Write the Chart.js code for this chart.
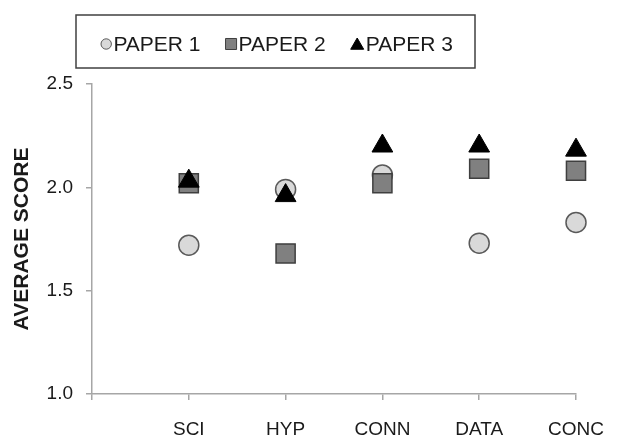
<!DOCTYPE html>
<html>
<head>
<meta charset="utf-8">
<script src="https://cdn.jsdelivr.net/npm/chart.js@4/dist/chart.umd.min.js"></script>
<style>
  html, body { margin: 0; padding: 0; background: #fff; }
  #wrap { width: 623px; height: 437px; }
</style>
</head>
<body>
<div id="wrap"><canvas id="c" width="623" height="437"></canvas></div>
<script>
const categories = ['SCI', 'HYP', 'CONN', 'DATA', 'CONC'];
const seriesNames = ['PAPER 1', 'PAPER 2', 'PAPER 3'];
const paper1 = [1.72, 1.99, 2.06, 1.73, 1.83];
const paper2 = [2.02, 1.68, 2.02, 2.09, 2.08];
const paper3 = [2.03, 1.96, 2.20, 2.20, 2.18];
const yTicks = [1.0, 1.5, 2.0, 2.5];
const yTitle = 'AVERAGE SCORE';

const FONT = '"Liberation Sans", Arial, sans-serif';
const AXIS = '#a6a6a6';

function toPoints(vals) { return vals.map((v, i) => ({ x: i + 1, y: v })); }

const boxedLegend = {
  id: 'boxedLegend',
  afterDraw(chart) {
    const ctx = chart.ctx;
    const box = { x: 76, y: 15, w: 399, h: 53 };
    ctx.save();
    ctx.strokeStyle = '#404040';
    ctx.lineWidth = 1.5;
    ctx.fillStyle = '#ffffff';
    ctx.fillRect(box.x, box.y, box.w, box.h);
    ctx.strokeRect(box.x, box.y, box.w, box.h);
    ctx.font = '21px ' + FONT;
    ctx.textBaseline = 'middle';
    ctx.textAlign = 'left';
    const cy = box.y + 29;
    const legendMarks = [
      { style: 'circle', r: 5.2 },
      { style: 'rect', r: 7.8 },
      { style: 'triangle', r: 7.5 }
    ];
    let x = 101;
    chart.data.datasets.forEach((ds, i) => {
      const m = legendMarks[i];
      const half = m.style === 'triangle' ? 6.5 : (m.style === 'rect' ? 5.5 : 5.2);
      ctx.fillStyle = ds.backgroundColor;
      ctx.strokeStyle = ds.borderColor;
      ctx.lineWidth = 1;
      Chart.helpers.drawPoint(ctx, { pointStyle: m.style, radius: m.r, rotation: 0, borderWidth: 1 }, x + half, m.style === 'triangle' ? cy + 1.5 : cy);
      const tx = x + 2 * half + 2;
      ctx.fillStyle = '#1a1a1a';
      ctx.fillText(ds.label, tx, cy + 1);
      x = tx + ctx.measureText(ds.label).width + 25;
    });
    ctx.restore();
  }
};

new Chart(document.getElementById('c'), {
  type: 'scatter',
  data: {
    datasets: [
      { label: seriesNames[0], data: toPoints(paper1), pointStyle: 'circle', pointRadius: 10, pointHoverRadius: 10,
        backgroundColor: '#d9d9d9', borderColor: '#5a5a5a', borderWidth: 1.5, order: 3, clip: false },
      { label: seriesNames[1], data: toPoints(paper2), pointStyle: 'rect', pointRadius: 13.5, pointHoverRadius: 13.5,
        backgroundColor: '#808080', borderColor: '#3f3f3f', borderWidth: 1.5, order: 2, clip: false },
      { label: seriesNames[2], data: toPoints(paper3), pointStyle: 'triangle', pointRadius: 12, pointHoverRadius: 12,
        backgroundColor: '#000000', borderColor: '#000000', borderWidth: 1, order: 1, clip: false }
    ]
  },
  options: {
    responsive: false,
    animation: false,
    devicePixelRatio: 1,
    layout: { padding: { top: 84, right: 47, left: 0, bottom: 0 } },
    plugins: { legend: { display: false }, tooltip: { enabled: false }, title: { display: false } },
    scales: {
      x: {
        type: 'linear', min: 0, max: categories.length,
        afterBuildTicks(scale) { scale.ticks = [0].concat(categories.map((c, i) => i + 1)).map(v => ({ value: v })); },
        afterFit(scale) { scale.height = 43; },
        ticks: {
          callback: (v) => (v >= 1 && v <= categories.length ? categories[v - 1] : ''),
          color: '#1a1a1a', font: { family: FONT, size: 19 }, padding: 18, maxRotation: 0, autoSkip: false
        },
        grid: { drawOnChartArea: false, drawTicks: true, tickLength: 6, color: AXIS, lineWidth: 1.5 },
        border: { display: true, color: AXIS, width: 1.5 }
      },
      y: {
        min: 1.0, max: 2.5,
        afterBuildTicks(scale) { scale.ticks = yTicks.map(v => ({ value: v })); },
        afterFit(scale) { scale.width = 92; },
        ticks: {
          callback: (v) => Number(v).toFixed(1),
          color: '#1a1a1a', font: { family: FONT, size: 19 }, padding: 13
        },
        grid: { drawOnChartArea: false, drawTicks: true, tickLength: 6, color: AXIS, lineWidth: 1.5 },
        border: { display: true, color: AXIS, width: 1.5 },
        title: { display: true, text: yTitle, color: '#1a1a1a', font: { family: FONT, size: 21, weight: 'bold' }, padding: { top: 10, bottom: 0 } }
      }
    }
  },
  plugins: [boxedLegend]
});
</script>
</body>
</html>
